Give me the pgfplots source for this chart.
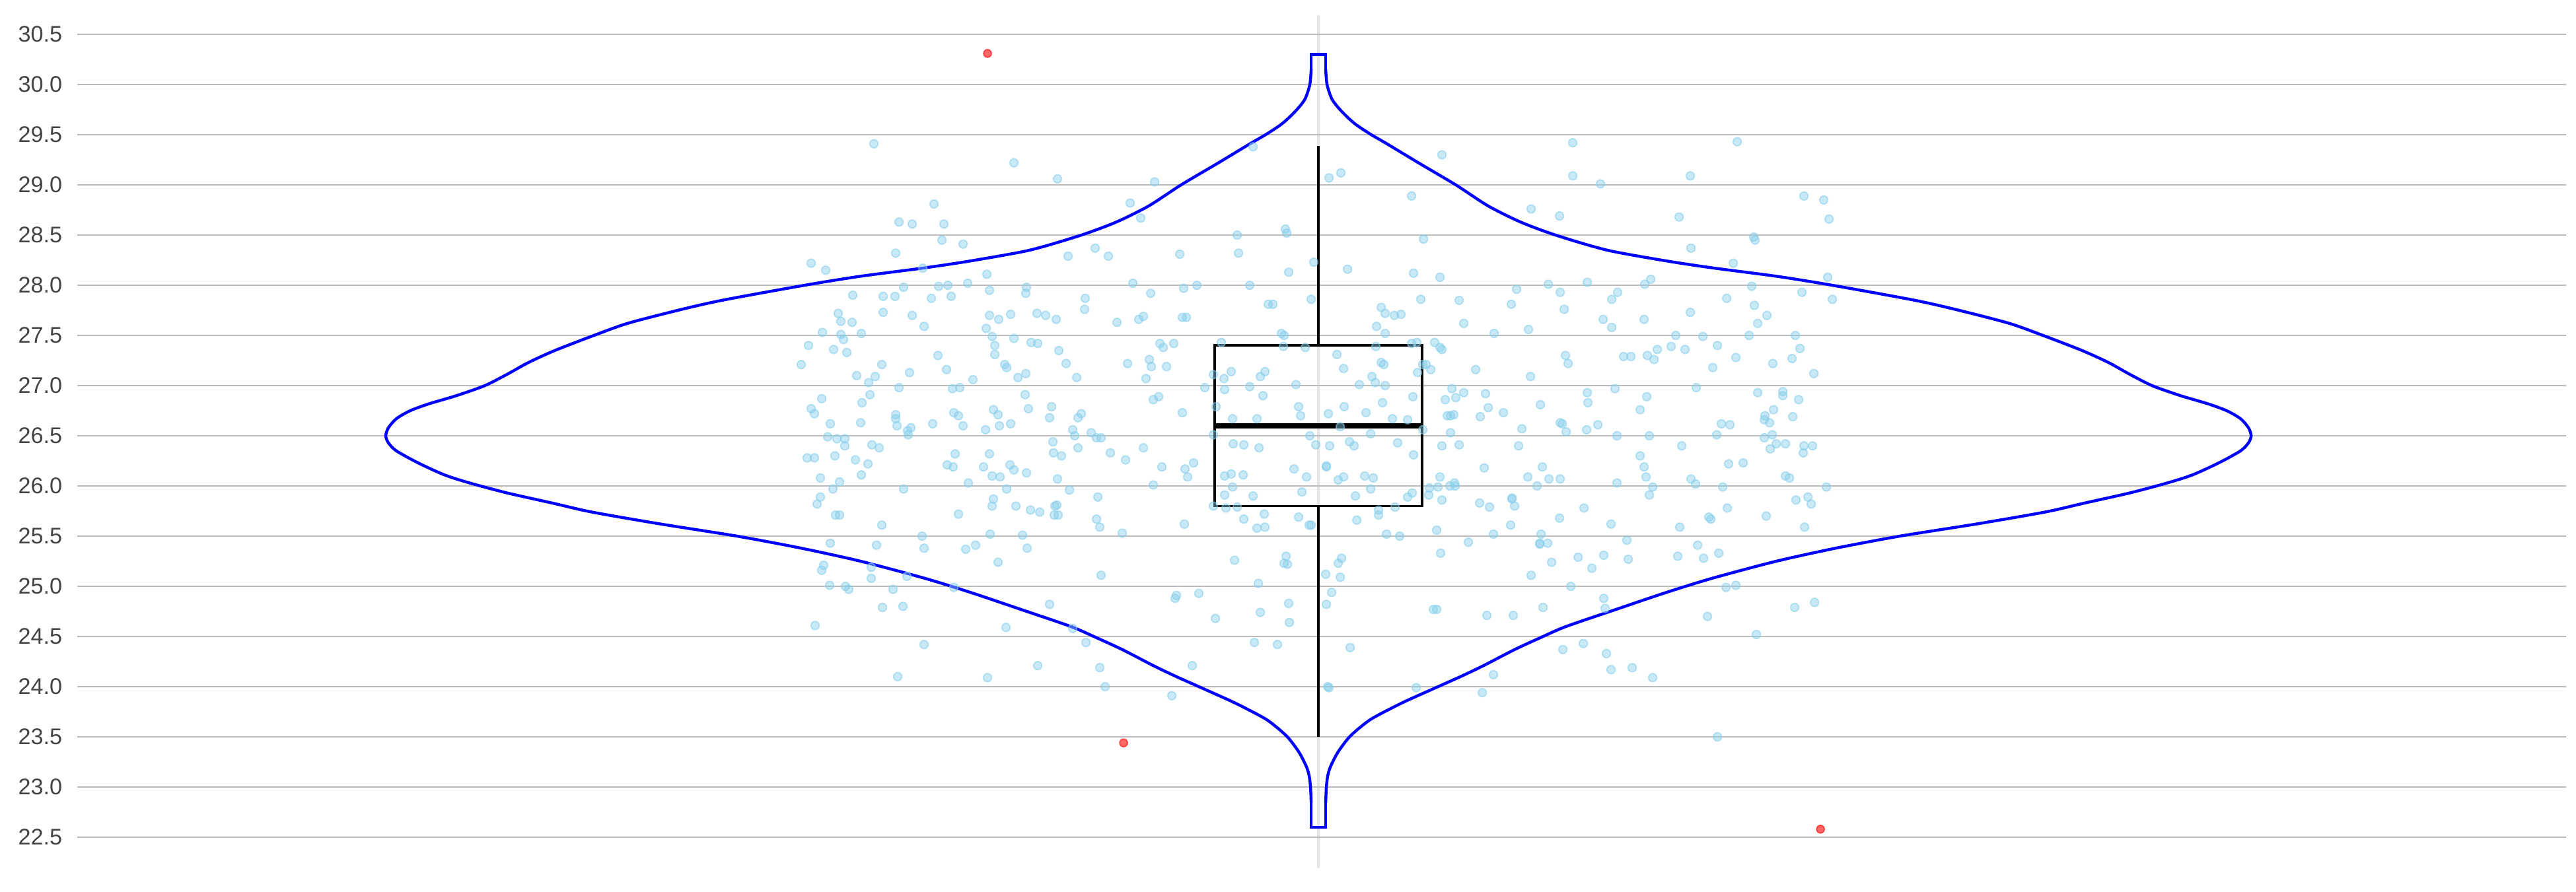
\documentclass[border=0pt]{standalone}
\usepackage{fontspec}
\setmainfont{Liberation Sans}
\usepackage{pgfplots}
\pgfplotsset{compat=1.18}
\definecolor{skyb}{RGB}{135,206,235}
\definecolor{gridc}{RGB}{188,188,188}
\definecolor{vgrid}{RGB}{230,230,230}
\definecolor{tickc}{RGB}{68,68,68}
\definecolor{violinblue}{RGB}{0,0,255}
\begin{document}
\begin{tikzpicture}
\begin{axis}[
  scale only axis,
  width=942pt, height=323pt,
  at={(0pt,0pt)}, anchor=south west,
  xmin=-1.879, xmax=1.889,
  ymin=22.191, ymax=30.691,
  axis line style={draw=none},
  major tick length=0pt,
  xtick={0}, xticklabels={},
  ytick={22.5,23.0,23.5,24.0,24.5,25.0,25.5,26.0,26.5,27.0,27.5,28.0,28.5,29.0,29.5,30.0,30.5},
  ymajorgrids, xmajorgrids,
  y grid style={gridc, line width=0.7pt},
  x grid style={vgrid, line width=0.8pt},
  /pgf/number format/fixed,
  /pgf/number format/fixed zerofill,
  /pgf/number format/precision=1,
  /pgf/number format/assume math mode=true,
  yticklabel style={anchor=east, inner sep=0pt, xshift=-5.5pt, font=\fontsize{8.55}{10}\selectfont, text=tickc},
  clip=false,
]
% violin outline: flat bottom, smooth left side, flat top, smooth right side
\addplot[violinblue, line width=1.1pt, line join=miter, line cap=round] coordinates {
(0.011,22.85) (0.011,22.60) (-0.011,22.60) (-0.011,22.85)
};
\addplot[violinblue, line width=1.1pt, smooth, tension=0.45, line cap=round] coordinates {
(-0.011,22.85) (-0.012,23.00) (-0.014,23.11) (-0.018,23.20) (-0.027,23.32) (-0.035,23.40) (-0.047,23.50) (-0.064,23.60) (-0.083,23.69) (-0.127,23.84) (-0.181,24.00) (-0.215,24.10) (-0.250,24.21) (-0.297,24.37) (-0.340,24.50) (-0.375,24.60) (-0.455,24.78) (-0.527,24.94) (-0.596,25.08) (-0.693,25.25) (-0.783,25.38) (-0.880,25.50) (-0.995,25.62) (-1.100,25.74) (-1.160,25.83) (-1.228,25.93) (-1.285,26.03) (-1.323,26.11) (-1.363,26.23) (-1.396,26.35) (-1.408,26.43) (-1.412,26.50) (-1.408,26.58) (-1.396,26.67) (-1.375,26.75) (-1.346,26.82) (-1.305,26.90) (-1.262,27.00) (-1.229,27.11) (-1.196,27.23) (-1.156,27.35) (-1.097,27.50) (-1.046,27.62) (-0.970,27.75) (-0.903,27.85) (-0.778,28.00) (-0.693,28.09) (-0.600,28.17) (-0.529,28.24) (-0.437,28.35) (-0.359,28.50) (-0.306,28.63) (-0.257,28.79) (-0.208,29.00) (-0.154,29.21) (-0.101,29.42) (-0.080,29.50) (-0.057,29.60) (-0.043,29.68) (-0.030,29.77) (-0.020,29.86) (-0.013,30.00) (-0.011,30.15)
};
\addplot[violinblue, line width=1.1pt, line join=miter, line cap=round] coordinates {
(-0.011,30.15) (-0.011,30.30) (0.011,30.30) (0.011,30.15)
};
\addplot[violinblue, line width=1.1pt, smooth, tension=0.45, line cap=round] coordinates {
(0.011,30.15) (0.013,30.00) (0.020,29.86) (0.030,29.77) (0.043,29.68) (0.057,29.60) (0.080,29.50) (0.101,29.42) (0.154,29.21) (0.208,29.00) (0.257,28.79) (0.306,28.63) (0.359,28.50) (0.437,28.35) (0.529,28.24) (0.600,28.17) (0.693,28.09) (0.778,28.00) (0.903,27.85) (0.970,27.75) (1.046,27.62) (1.097,27.50) (1.156,27.35) (1.196,27.23) (1.229,27.11) (1.262,27.00) (1.305,26.90) (1.346,26.82) (1.375,26.75) (1.396,26.67) (1.408,26.58) (1.412,26.50) (1.408,26.43) (1.396,26.35) (1.363,26.23) (1.323,26.11) (1.285,26.03) (1.228,25.93) (1.160,25.83) (1.100,25.74) (0.995,25.62) (0.880,25.50) (0.783,25.38) (0.693,25.25) (0.596,25.08) (0.527,24.94) (0.455,24.78) (0.375,24.60) (0.340,24.50) (0.297,24.37) (0.250,24.21) (0.215,24.10) (0.181,24.00) (0.127,23.84) (0.083,23.69) (0.064,23.60) (0.047,23.50) (0.035,23.40) (0.027,23.32) (0.018,23.20) (0.014,23.11) (0.012,23.00) (0.011,22.85)
};
% whiskers
\addplot[black, line width=0.9pt] coordinates {(0,25.80) (0,23.50)};
\addplot[black, line width=0.9pt] coordinates {(0,27.40) (0,29.39)};
% box
\addplot[black, line width=0.9pt, line join=miter] coordinates {(-0.157,25.80) (0.157,25.80) (0.157,27.40) (-0.157,27.40) (-0.157,25.80) (0.157,25.80)};
% median
\addplot[black, line width=2pt] coordinates {(-0.157,26.60) (0.157,26.60)};
% jittered points
\addplot[only marks, mark=*, mark size=1.55pt, mark options={draw=skyb, fill=skyb, fill opacity=0.45, draw opacity=0.55, line width=0.5pt}] coordinates {
(-0.673,29.41) (-0.635,28.63) (-0.615,28.61) (-0.640,28.32) (-0.768,28.22) (-0.746,28.15) (-0.599,28.17) (-0.628,27.98) (-0.705,27.90) (-0.659,27.89) (-0.641,27.89) (-0.659,27.73) (-0.615,27.70) (-0.727,27.72) (-0.723,27.64) (-0.706,27.63) (-0.597,27.59) (-0.751,27.53) (-0.723,27.51) (-0.719,27.46) (-0.692,27.52) (-0.772,27.40) (-0.734,27.36) (-0.714,27.33) (-0.783,27.21) (-0.661,27.21) (-0.619,27.13) (-0.699,27.10) (-0.671,27.09) (-0.681,27.03) (-0.635,26.98) (-0.752,26.87) (-0.679,26.91) (-0.691,26.83) (-0.768,26.77) (-0.763,26.72) (-0.640,26.71) (-0.640,26.67) (-0.638,26.60) (-0.739,26.62) (-0.693,26.63) (-0.622,26.55) (-0.617,26.58) (-0.621,26.51) (-0.743,26.49) (-0.729,26.47) (-0.717,26.47) (-0.717,26.40) (-0.676,26.41) (-0.665,26.38)
(-0.774,26.28) (-0.763,26.28) (-0.732,26.30) (-0.701,26.26) (-0.682,26.22) (-0.754,26.08) (-0.725,26.04) (-0.735,25.97) (-0.692,26.11) (-0.628,25.97) (-0.754,25.89) (-0.759,25.82) (-0.731,25.71) (-0.725,25.71) (-0.661,25.61) (-0.600,25.50) (-0.597,25.38) (-0.739,25.43) (-0.669,25.41) (-0.749,25.21) (-0.752,25.16) (-0.677,25.19) (-0.677,25.08) (-0.623,25.10) (-0.740,25.01) (-0.716,25.00) (-0.711,24.97) (-0.644,24.97) (-0.660,24.79) (-0.629,24.80) (-0.762,24.61) (-0.597,24.42) (-0.637,24.10)
(-0.461,29.22) (-0.395,29.06) (-0.248,29.03) (-0.582,28.81) (-0.285,28.82) (-0.567,28.61) (-0.269,28.67) (-0.099,29.38) (0.016,29.07) (0.034,29.12) (-0.570,28.45) (-0.538,28.41) (-0.123,28.50) (-0.050,28.56) (-0.048,28.52) (-0.379,28.29) (-0.338,28.37) (-0.318,28.29) (-0.210,28.31) (-0.121,28.32) (-0.007,28.23) (-0.045,28.13) (0.044,28.16) (-0.502,28.11) (-0.575,27.99) (-0.561,28.00) (-0.531,28.02) (-0.586,27.87) (-0.556,27.89) (-0.498,27.95) (-0.442,27.98) (-0.443,27.92) (-0.281,28.02) (-0.254,27.92) (-0.204,27.97) (-0.184,28.00) (-0.104,28.00) (-0.353,27.87) (-0.354,27.76) (-0.011,27.86) (-0.076,27.81) (-0.069,27.81) (0.095,27.78) (0.101,27.72) (-0.498,27.70) (-0.484,27.66) (-0.466,27.71) (-0.426,27.72) (-0.413,27.70) (-0.397,27.66) (-0.305,27.63) (-0.272,27.66) (-0.265,27.69) (-0.206,27.68) (-0.200,27.68) (-0.503,27.57) (-0.494,27.49) (-0.461,27.47) (-0.490,27.40) (-0.490,27.31) (-0.576,27.30) (-0.435,27.43) (-0.425,27.42) (-0.393,27.35) (-0.240,27.42) (-0.235,27.38) (-0.219,27.42) (-0.147,27.43) (-0.056,27.52) (-0.052,27.50) (-0.053,27.39) (-0.020,27.38) (0.088,27.59) (0.087,27.39) (0.101,27.52) (0.028,27.31) (-0.563,27.16) (-0.475,27.21) (-0.472,27.18) (-0.523,27.06) (-0.455,27.08) (-0.443,27.12) (-0.382,27.22) (-0.366,27.08) (-0.289,27.22) (-0.256,27.26) (-0.253,27.19) (-0.230,27.19) (-0.261,27.07) (-0.554,26.97) (-0.543,26.98) (-0.444,26.91) (-0.439,26.77) (-0.404,26.79) (-0.407,26.68) (-0.492,26.76) (-0.485,26.71) (-0.552,26.73) (-0.545,26.70) (-0.584,26.62) (-0.538,26.60) (-0.504,26.56) (-0.483,26.60) (-0.466,26.62) (-0.250,26.86) (-0.242,26.89) (-0.206,26.73) (-0.172,26.98) (-0.159,27.11) (-0.143,27.07) (-0.132,27.14) (-0.142,26.96) (-0.104,26.99) (-0.088,27.09) (-0.081,27.14) (-0.084,26.90) (-0.155,26.79) (-0.130,26.67) (-0.093,26.67) (-0.034,27.01) (-0.030,26.79) (-0.027,26.70) (0.038,27.17) (0.015,26.72) (0.039,26.79) (0.072,26.73) (0.062,27.01) (0.081,27.09) (0.086,27.03) (0.095,27.23) (0.099,27.21) (0.101,27.00) (0.097,26.83) (-0.372,26.56) (-0.369,26.50) (-0.359,26.72) (-0.364,26.68) (-0.344,26.53) (-0.336,26.48) (-0.329,26.48) (-0.402,26.44) (-0.159,26.51) (-0.013,26.50) (0.033,26.59) (0.079,26.52) (0.047,26.44) (0.054,26.40) (-0.129,26.42) (-0.113,26.41) (-0.004,26.41) (0.017,26.40) (-0.090,26.38) (-0.364,26.38) (-0.265,26.38)
(-0.550,26.32) (-0.498,26.32) (-0.401,26.33) (-0.389,26.30) (-0.315,26.33) (-0.292,26.26) (-0.562,26.21) (-0.553,26.19) (-0.507,26.19) (-0.467,26.21) (-0.461,26.16) (-0.442,26.13) (-0.494,26.10) (-0.482,26.09) (-0.530,26.03) (-0.472,25.97) (-0.395,26.07) (-0.377,25.96) (-0.237,26.19) (-0.202,26.17) (-0.189,26.23) (-0.198,26.09) (-0.250,26.01) (-0.334,25.89) (-0.492,25.87) (-0.494,25.80) (-0.458,25.80) (-0.436,25.76) (-0.422,25.74) (-0.545,25.72) (-0.399,25.80) (-0.396,25.81) (-0.400,25.71) (-0.394,25.71) (-0.336,25.67) (-0.331,25.59) (-0.297,25.53) (-0.203,25.62) (-0.497,25.52) (-0.448,25.51) (-0.534,25.37) (-0.519,25.41) (-0.441,25.38) (-0.485,25.24) (-0.329,25.11) (-0.552,24.99) (-0.407,24.82) (-0.473,24.59) (-0.372,24.58) (-0.352,24.44) (-0.425,24.21) (-0.331,24.19) (-0.501,24.09) (-0.323,24.00) (-0.222,23.91) (-0.215,24.91) (-0.217,24.88) (-0.181,24.93) (-0.156,24.68) (-0.191,24.21) (-0.127,25.26) (-0.091,25.03) (-0.088,24.74) (-0.097,24.44) (-0.062,24.42) (-0.049,25.30) (-0.052,25.23) (-0.047,25.22) (-0.045,24.83) (-0.044,24.64) (0.011,25.12) (0.035,25.28) (0.030,25.23) (0.033,25.09) (0.020,24.94) (0.012,24.82) (0.048,24.39) (0.016,23.99) (0.014,24.00) (-0.037,26.17) (-0.018,26.09) (0.012,26.19) (0.012,26.20) (0.030,26.06) (0.038,26.09) (0.070,26.10) (0.083,26.08) (0.079,25.97) (0.056,25.90) (-0.025,25.94) (-0.099,25.90) (-0.142,26.10) (-0.132,26.12) (-0.114,26.11) (-0.130,25.99) (-0.142,25.91) (-0.159,25.80) (-0.140,25.78) (-0.123,25.79) (-0.113,25.67) (-0.082,25.72) (-0.093,25.58) (-0.081,25.59) (-0.030,25.69) (-0.014,25.61) (-0.011,25.61) (0.058,25.66) (0.091,25.76) (0.091,25.71) (0.103,25.52)
(0.385,29.42) (0.634,29.43) (0.187,29.30) (0.385,29.09) (0.563,29.09) (0.427,29.01) (0.141,28.89) (0.735,28.89) (0.765,28.85) (0.773,28.66) (0.322,28.76) (0.365,28.69) (0.546,28.68) (0.159,28.46) (0.659,28.48) (0.661,28.45) (0.564,28.37) (0.628,28.22) (0.144,28.12) (0.184,28.08) (0.771,28.08) (0.348,28.01) (0.407,28.03) (0.494,28.01) (0.503,28.06) (0.656,27.99) (0.300,27.96) (0.366,27.93) (0.453,27.93) (0.444,27.86) (0.155,27.86) (0.213,27.85) (0.292,27.81) (0.618,27.87) (0.732,27.93) (0.778,27.86) (0.660,27.80) (0.372,27.76) (0.563,27.73) (0.679,27.70) (0.665,27.62) (0.115,27.70) (0.125,27.71) (0.431,27.66) (0.493,27.66) (0.220,27.62) (0.318,27.56) (0.444,27.58) (0.266,27.52) (0.541,27.50) (0.582,27.49) (0.652,27.50) (0.722,27.50) (0.141,27.42) (0.149,27.43) (0.176,27.43) (0.184,27.38) (0.187,27.36) (0.534,27.39) (0.513,27.36) (0.555,27.36) (0.604,27.40) (0.729,27.37) (0.374,27.30) (0.378,27.22) (0.462,27.29) (0.473,27.29) (0.498,27.30) (0.508,27.26) (0.632,27.28) (0.717,27.27) (0.688,27.22) (0.750,27.12) (0.597,27.18) (0.158,27.21) (0.163,27.21) (0.170,27.16) (0.150,27.13) (0.238,27.16) (0.321,27.09) (0.202,26.97) (0.220,26.93) (0.208,26.88) (0.192,26.86) (0.253,26.92) (0.257,26.78) (0.280,26.73) (0.336,26.81) (0.407,26.93) (0.408,26.83) (0.449,26.97) (0.497,26.89) (0.487,26.76) (0.572,26.98) (0.665,26.93) (0.703,26.94) (0.703,26.90) (0.727,26.86) (0.689,26.76) (0.718,26.69) (0.676,26.70) (0.675,26.66) (0.683,26.63) (0.610,26.62) (0.623,26.61) (0.195,26.70) (0.200,26.70) (0.205,26.71) (0.245,26.69) (0.143,26.89) (0.112,26.67) (0.135,26.66) (0.158,26.56) (0.200,26.53) (0.308,26.57) (0.366,26.63) (0.369,26.62) (0.375,26.54) (0.406,26.56) (0.423,26.61) (0.452,26.50) (0.501,26.50) (0.603,26.51) (0.675,26.48) (0.687,26.51) (0.120,26.43) (0.187,26.40) (0.213,26.41) (0.303,26.40) (0.550,26.40) (0.693,26.42) (0.707,26.42) (0.735,26.40) (0.748,26.40) (0.684,26.37)
(0.144,26.31) (0.734,26.33) (0.487,26.30) (0.621,26.22) (0.643,26.23) (0.251,26.18) (0.339,26.19) (0.493,26.19) (0.184,26.09) (0.317,26.09) (0.349,26.07) (0.366,26.07) (0.496,26.09) (0.564,26.07) (0.571,26.02) (0.707,26.10) (0.713,26.08) (0.452,26.03) (0.168,25.98) (0.181,25.99) (0.199,26.00) (0.206,26.03) (0.207,26.00) (0.331,26.00) (0.506,25.99) (0.612,25.99) (0.769,25.99) (0.142,25.93) (0.135,25.89) (0.167,25.91) (0.187,25.86) (0.244,25.83) (0.259,25.79) (0.293,25.88) (0.293,25.87) (0.297,25.80) (0.402,25.78) (0.501,25.91) (0.619,25.78) (0.723,25.86) (0.741,25.89) (0.746,25.82) (0.116,25.79) (0.365,25.68) (0.591,25.69) (0.594,25.67) (0.678,25.70) (0.291,25.61) (0.443,25.62) (0.547,25.59) (0.736,25.59) (0.179,25.56) (0.265,25.52) (0.337,25.52) (0.123,25.50) (0.227,25.44) (0.335,25.43) (0.335,25.42) (0.347,25.43) (0.467,25.46) (0.574,25.41) (0.185,25.33) (0.353,25.24) (0.393,25.29) (0.432,25.31) (0.469,25.27) (0.414,25.18) (0.544,25.30) (0.583,25.28) (0.606,25.33) (0.322,25.11) (0.382,25.00) (0.432,24.88) (0.434,24.78) (0.617,24.99) (0.632,25.01) (0.174,24.77) (0.179,24.77) (0.255,24.71) (0.295,24.71) (0.340,24.79) (0.589,24.70) (0.721,24.79) (0.751,24.84) (0.663,24.52) (0.370,24.37) (0.401,24.43) (0.436,24.33) (0.443,24.17) (0.475,24.19) (0.506,24.09) (0.265,24.12) (0.148,23.99) (0.248,23.94) (0.604,23.50)
};
% outliers
\addplot[only marks, mark=*, mark size=1.5pt, mark options={draw=red, fill=red, fill opacity=0.6, draw opacity=0.6, line width=0.4pt}] coordinates {(-0.501,30.31) (-0.295,23.44) (0.760,22.58)};
\end{axis}
\path (-29.25pt,-8.75pt) rectangle (945.75pt,328.75pt);
\end{tikzpicture}
\end{document}
